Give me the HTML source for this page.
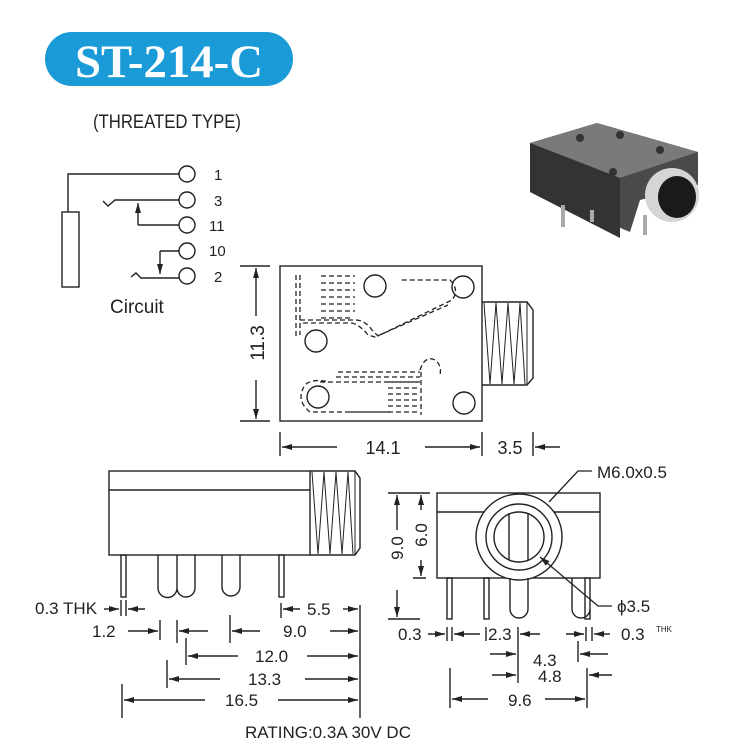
<!DOCTYPE html>
<html><head><meta charset="utf-8"><style>
body{margin:0;background:#fff;}
svg{display:block;}
text{font-family:"Liberation Sans",sans-serif;fill:#222;}
</style></head><body>
<svg width="735" height="744" viewBox="0 0 735 744" xmlns="http://www.w3.org/2000/svg">
<defs>
<marker id="a" viewBox="0 0 10 6" refX="10" refY="3" markerWidth="10" markerHeight="6" orient="auto-start-reverse" markerUnits="userSpaceOnUse"><path d="M0,0 L10,3 L0,6 Z" fill="#222"/></marker>
</defs>
<rect x="45" y="32" width="248" height="54" rx="27" fill="#1a9ad7"/>
<text x="169" y="77" text-anchor="middle" textLength="188" lengthAdjust="spacingAndGlyphs" style="font-family:'Liberation Serif',serif;font-weight:bold;font-size:47px;fill:#fff">ST-214-C</text>
<text x="93" y="128" textLength="148" lengthAdjust="spacingAndGlyphs" style="font-size:19px">(THREATED TYPE)</text>

<g stroke="#222" stroke-width="1.4" fill="none">
<path d="M68,212 V174 H179"/>
<rect x="62" y="212" width="17" height="75"/>
<path d="M103,201 L108,206 L115,200 H179"/>
<path d="M138,225 H179 M138,225 V203" marker-end="url(#a)"/>
<path d="M131,277 L136,273 L141,278 H179"/>
<path d="M160,251 H179 M160,251 V274" marker-end="url(#a)"/>
<circle cx="187" cy="174" r="8"/><circle cx="187" cy="200" r="8"/><circle cx="187" cy="225" r="8"/><circle cx="187" cy="251" r="8"/><circle cx="187" cy="276" r="8"/>

<rect x="280" y="266" width="202" height="155"/>
<path d="M482,302 H527 L533,310 V378 L527,385 H482"/>
<path d="M484,303 L490,384 L496,303 L502,384 L508,303 L514,384 L520,303 L525,384 M527,302 V385" stroke-width="1"/>
<circle cx="375" cy="286" r="11"/><circle cx="463" cy="287" r="11"/><circle cx="316" cy="341" r="11"/><circle cx="318" cy="397" r="11"/><circle cx="464" cy="403" r="11"/>
<g stroke-dasharray="5,3" stroke-width="1.3">
<path d="M296,275 V337 M300,275 V335 M300,320 H355 Q365,320 372,330 L378,336 L452,300 Q460,290 450,280 H400"/>
<path d="M303,323 H352 Q360,325 368,335 L375,337 L448,305"/>
<path d="M321,276 H355 M321,283 H355 M321,290 H355 M321,297 H355 M321,304 H355 M321,311 H355 M321,318 H350"/>
<path d="M338,372 H420 M336,377 H420 M320,382 H420 M350,412 H390 L310,412 Q295,400 305,385 Q312,378 330,382"/>
<path d="M388,382 H420 M388,388 H420 M388,394 H420 M388,400 H420 M388,406 H420 M388,412 H420 M421,372 V415 M420,370 Q425,355 435,360 Q442,365 440,375"/>
</g>
<path d="M240,266 H270 M240,421 H270"/>
<path d="M256,316 V268" marker-end="url(#a)"/>
<path d="M256,380 V419" marker-end="url(#a)"/>
<path d="M280,432 V456 M482,432 V456 M533,432 V456"/>
<path d="M337,447 H282" marker-end="url(#a)"/>
<path d="M425,447 H480" marker-end="url(#a)"/>
<path d="M560,447 H535" marker-end="url(#a)"/>

<rect x="109" y="471" width="201" height="84"/>
<path d="M109,490 H310"/>
<path d="M310,471 H355 L360,478 V548 L355,555 H310"/>
<path d="M312,472 L318,554 L324,472 L330,554 L336,472 L342,554 L348,472 L353,554 M355,471 V555" stroke-width="1"/>
<rect x="121" y="555" width="5" height="42"/>
<rect x="279" y="555" width="5" height="42"/>
<path d="M158,555 V588 A9.5,9.5 0 0 0 177,588 V555 M177,588 A9,9 0 0 0 195,588 V555"/>
<path d="M222,555 V587 A9,9 0 0 0 240,587 V555"/>
<path d="M360,605 V718"/>
<path d="M121,600 V616 M126,600 V616"/>
<path d="M104,609 H119" marker-end="url(#a)"/>
<path d="M145,609 H128" marker-end="url(#a)"/>
<path d="M281,603 V618"/>
<path d="M300,609 H283" marker-end="url(#a)"/>
<path d="M343,609 H358" marker-end="url(#a)"/>
<path d="M160,620 V640 M177,620 V643 M230,615 V643"/>
<path d="M128,631 H158" marker-end="url(#a)"/>
<path d="M208,631 H179" marker-end="url(#a)"/>
<path d="M260,631 H232" marker-end="url(#a)"/>
<path d="M330,631 H358" marker-end="url(#a)"/>
<path d="M186,638 V665"/>
<path d="M238,656 H188" marker-end="url(#a)"/>
<path d="M307,656 H358" marker-end="url(#a)"/>
<path d="M167,660 V688"/>
<path d="M220,679 H169" marker-end="url(#a)"/>
<path d="M305,679 H358" marker-end="url(#a)"/>
<path d="M122,684 V718"/>
<path d="M205,700 H124" marker-end="url(#a)"/>
<path d="M278,700 H358" marker-end="url(#a)"/>

<rect x="437" y="493" width="163" height="85"/>
<path d="M437,512 H600"/>
<circle cx="519" cy="537" r="43" fill="#fff"/>
<circle cx="519" cy="537" r="33"/>
<circle cx="519" cy="537" r="25"/>
<path d="M509,513 V560 M528,513 V560"/>
<rect x="447" y="578" width="5" height="41"/>
<rect x="484" y="578" width="5" height="41"/>
<rect x="585" y="578" width="5" height="41"/>
<path d="M510,578 V609 A9,9 0 0 0 528,609 V578 M572,578 V609 A9,9 0 0 0 590,609"/>
<path d="M549,502 L578,471 H592" stroke-width="1.3"/>
<path d="M612,606 H598 L540,557" stroke-width="1.3" marker-end="url(#a)"/>
<path d="M388,493 H430 M388,619 H420 M413,578 H426"/>
<path d="M397,530 V495" marker-end="url(#a)"/>
<path d="M397,590 V617" marker-end="url(#a)"/>
<path d="M421,510 V495" marker-end="url(#a)"/>
<path d="M421,560 V576" marker-end="url(#a)"/>
<path d="M447,627 V641 M452,627 V641 M486,627 V641 M518,627 V683 M586,627 V641 M592,627 V641"/>
<path d="M428,634 H445" marker-end="url(#a)"/>
<path d="M480,634 H454" marker-end="url(#a)"/>
<path d="M540,634 H520" marker-end="url(#a)"/>
<path d="M566,634 H584" marker-end="url(#a)"/>
<path d="M610,634 H594" marker-end="url(#a)"/>
<path d="M490,654 H516" marker-end="url(#a)"/>
<path d="M578,641 V662"/>
<path d="M608,654 H580" marker-end="url(#a)"/>
<path d="M492,675 H516" marker-end="url(#a)"/>
<path d="M587,668 V708 M450,668 V708"/>
<path d="M612,675 H589" marker-end="url(#a)"/>
<path d="M488,699 H452" marker-end="url(#a)"/>
<path d="M545,699 H585" marker-end="url(#a)"/>
</g>

<g style="font-size:15px">
<text x="214" y="180">1</text><text x="214" y="206">3</text><text x="209" y="231">11</text><text x="209" y="256">10</text><text x="214" y="282">2</text>
</g>
<text x="110" y="313" style="font-size:19px">Circuit</text>
<text x="0" y="0" transform="translate(264,343) rotate(-90)" text-anchor="middle" style="font-size:19px">11.3</text>
<text x="383" y="454" text-anchor="middle" style="font-size:18px">14.1</text>
<text x="510" y="454" text-anchor="middle" style="font-size:18px">3.5</text>
<g style="font-size:17px">
<text x="35" y="614">0.3 THK</text>
<text x="307" y="615">5.5</text>
<text x="92" y="637">1.2</text>
<text x="283" y="637">9.0</text>
<text x="255" y="662">12.0</text>
<text x="248" y="685">13.3</text>
<text x="225" y="706">16.5</text>
<text x="245" y="738">RATING:0.3A 30V DC</text>
<text x="597" y="478">M6.0x0.5</text>
<text x="617" y="612">ϕ3.5</text>
<text x="0" y="0" transform="translate(403,548) rotate(-90)" text-anchor="middle">9.0</text>
<text x="0" y="0" transform="translate(427,535) rotate(-90)" text-anchor="middle">6.0</text>
<text x="398" y="640">0.3</text>
<text x="488" y="640">2.3</text>
<text x="621" y="640">0.3</text>
<text x="533" y="666">4.3</text>
<text x="538" y="682">4.8</text>
<text x="508" y="706">9.6</text>
</g>
<text x="656" y="632" style="font-size:8px">THK</text>

<g>
<polygon points="530,143 597,123 698,152 698,185 640,200 630,232 530,190" fill="#4a4a4a"/>
<polygon points="530,143 597,123 698,152 620,178" fill="#7a7a7a"/>
<polygon points="530,143 620,178 620,238 530,192" fill="#333"/>
<rect x="561" y="205" width="4" height="22" fill="#aaa"/>
<rect x="590" y="210" width="4" height="12" fill="#aaa"/>
<rect x="643" y="215" width="4" height="20" fill="#aaa"/>
<circle cx="580" cy="138" r="4" fill="#333"/><circle cx="620" cy="135" r="4" fill="#333"/><circle cx="660" cy="150" r="4" fill="#333"/><circle cx="613" cy="172" r="4" fill="#333"/>
<ellipse cx="672" cy="195" rx="27" ry="27" fill="#d5d5d5"/>
<ellipse cx="677" cy="197" rx="19" ry="21" fill="#1a1a1a"/>
</g>
</svg>
</body></html>
